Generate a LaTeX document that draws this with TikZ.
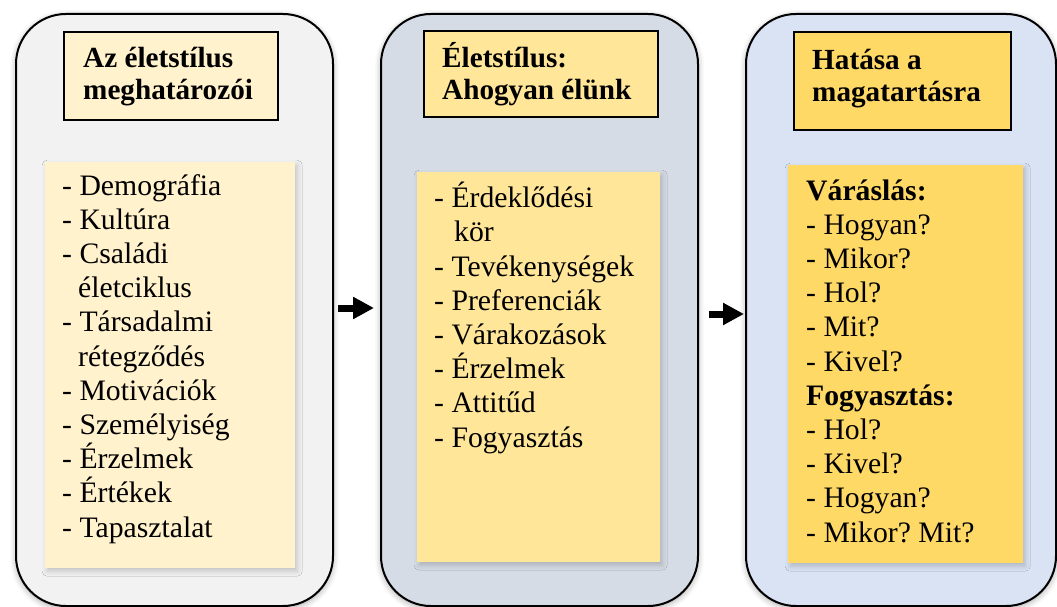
\documentclass[tikz,border=0pt]{standalone}
\usepackage{fontspec}
\setmainfont{Liberation Serif}
\frenchspacing
\usetikzlibrary{arrows.meta,shadows.blur}
\definecolor{panelgray}{HTML}{F2F2F2}
\definecolor{panelslate}{HTML}{D6DCE5}
\definecolor{panelblue}{HTML}{DAE3F3}
\definecolor{creamA}{HTML}{FFF2CC}
\definecolor{creamB}{HTML}{FFE699}
\definecolor{creamC}{HTML}{FFD966}
\begin{document}
\begin{tikzpicture}[x=1pt,y=-1pt,
  panel/.style={draw=black, line width=2pt, rounded corners=50pt, inner sep=0pt,
    anchor=north west, minimum width=317pt, minimum height=592pt,
    blur shadow={shadow xshift=0pt, shadow yshift=-2pt, shadow blur radius=6pt, shadow opacity=35}},
  head/.style={draw=black, line width=1.8pt, inner sep=0pt, anchor=north west},
  card/.style={draw=none, inner sep=0pt, anchor=north west,
    blur shadow={shadow xshift=2pt, shadow yshift=-3pt, shadow blur radius=5pt, shadow opacity=20}},
  headtxt/.style={inner sep=0pt, anchor=base west, align=left,
    font=\bfseries\fontsize{29.2}{32.5}\selectfont},
  listtxt/.style={inner sep=0pt, anchor=base west, align=left,
    font=\fontsize{29.7}{34.2}\selectfont},
  bigarrow/.style={line width=7pt, -{Triangle[length=21pt,width=21pt]}}]

\useasboundingbox (0,0) rectangle (1057,607);

% three rounded panels
\node[panel, fill=panelgray] (p1) at (15,13) {};
\node[panel, fill=panelslate] (p2) at (380,13) {};
\node[panel, fill=panelblue, minimum width=310pt] (p3) at (745,13) {};

% heading boxes
\node[head, fill=creamA, minimum width=214pt, minimum height=88pt] (t1) at (63,31) {};
\node[head, fill=creamB, minimum width=234pt, minimum height=86pt] (t2) at (423,30) {};
\node[head, fill=creamC, minimum width=217pt, minimum height=98pt] (t3) at (793,31) {};

% content cards
\node[card, fill=creamA, minimum width=250pt, minimum height=406pt] (c1) at (45,162) {};
\node[card, fill=creamB, minimum width=243pt, minimum height=390pt] (c2) at (417,172) {};
\node[card, fill=creamC, minimum width=235pt, minimum height=398pt] (c3) at (788,165) {};

% heading texts (anchored at the baseline of their last line)
\node[headtxt] (h1) at (83,100) {Az életstílus\\meghatározói};
\node[headtxt] (h2) at (442,100) {Életstílus:\\Ahogyan élünk};
\node[headtxt] (h3) at (812,102) {Hatása a\\magatartásra};

% lists (anchored at the baseline of their last line)
\node[listtxt] (l1) at (62,537) {- Demográfia\\- Kultúra\\- Családi\\\hspace*{16pt}életciklus\\- Társadalmi\\\hspace*{16pt}rétegződés\\- Motivációk\\- Személyiség\\- Érzelmek\\- Értékek\\- Tapasztalat};
\node[listtxt] (l2) at (434,447) {- Érdeklődési\\\hspace*{20pt}kör\\- Tevékenységek\\- Preferenciák\\- Várakozások\\- Érzelmek\\- Attitűd\\- Fogyasztás};
\node[listtxt] (l3) at (806,542) {\textbf{Váráslás:}\\- Hogyan?\\- Mikor?\\- Hol?\\- Mit?\\- Kivel?\\\textbf{Fogyasztás:}\\- Hol?\\- Kivel?\\- Hogyan?\\- Mikor? Mit?};

% arrows between panels
\draw[bigarrow, shorten <=4pt, shorten >=6pt] ([yshift=2pt]p1.east) -- ([yshift=2pt]p2.west);
\draw[bigarrow, shorten <=10pt, shorten >=1pt] ([yshift=-4pt]p2.east) -- ([yshift=-4pt]p3.west);
\end{tikzpicture}
\end{document}
